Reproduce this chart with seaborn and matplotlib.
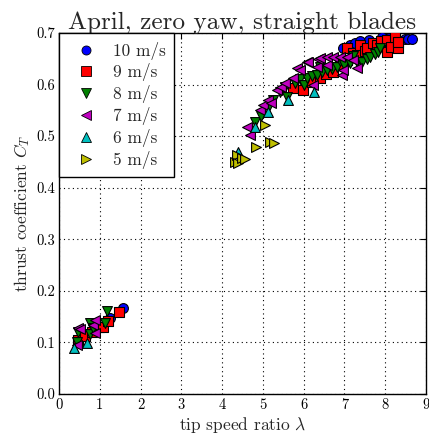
import matplotlib
matplotlib.use("Agg")
import matplotlib.pyplot as plt
import seaborn as sns
import pandas as pd
from matplotlib.lines import Line2D

# ---- data ----
speeds = ["10 m/s", "9 m/s", "8 m/s", "7 m/s", "6 m/s", "5 m/s"]

tsr_10 = [1.25, 1.57, 6.97, 7.14, 7.25, 7.38, 7.6, 7.92, 8.1, 8.48, 8.56, 8.66]
ct_10 = [0.148, 0.167, 0.671, 0.677, 0.680, 0.684, 0.686, 0.692, 0.690, 0.688, 0.688, 0.688]

tsr_9 = [0.47, 0.64, 0.81, 0.98, 1.08, 1.2, 1.47,
         5.74, 5.98, 6.2, 6.4, 6.55, 6.72, 6.9, 7.06, 7.06, 7.21, 7.31, 7.38,
         7.5, 7.55, 7.7, 7.8, 7.9, 8.04, 8.04, 8.15, 8.24, 8.31, 8.31]
ct_9 = [0.105, 0.113, 0.12, 0.13, 0.13, 0.142, 0.159,
        0.593, 0.589, 0.605, 0.613, 0.62, 0.624, 0.64, 0.648, 0.671, 0.661, 0.657, 0.677,
        0.665, 0.671, 0.68, 0.677, 0.685, 0.663, 0.686, 0.672, 0.692, 0.671, 0.682]

tsr_8 = [0.44, 0.47, 0.76, 0.76, 0.83, 1.13, 1.18,
         4.81, 4.95, 5.12, 5.25, 5.42, 5.55, 5.6, 5.79, 5.9, 6.0, 6.08, 6.2, 6.33,
         6.4, 6.45, 6.57, 6.7, 6.82, 6.9, 7.0, 7.14, 7.2, 7.3, 7.43, 7.55, 7.63,
         7.75, 7.82, 7.87]
ct_8 = [0.1, 0.12, 0.138, 0.116, 0.128, 0.138, 0.16,
        0.527, 0.54, 0.554, 0.57, 0.586, 0.595, 0.575, 0.603, 0.61, 0.6, 0.613, 0.617, 0.619,
        0.634, 0.624, 0.628, 0.631, 0.634, 0.645, 0.638, 0.642, 0.655, 0.643, 0.644, 0.65, 0.654,
        0.66, 0.663, 0.671]

tsr_7 = [0.44, 0.47, 0.51, 0.83, 0.88, 0.88,
         4.61, 4.68, 4.93, 5.0, 5.12, 5.2, 5.34, 5.45, 5.54, 5.74, 5.83, 5.91, 6.08,
         6.11, 6.23, 6.33, 6.35, 6.4, 6.57, 6.57, 6.72, 6.89, 6.94, 6.96, 7.06, 7.21, 7.31]
ct_7 = [0.095, 0.128, 0.126, 0.134, 0.118, 0.143,
        0.518, 0.502, 0.551, 0.56, 0.57, 0.565, 0.589, 0.595, 0.603, 0.613, 0.632, 0.628, 0.644,
        0.644, 0.599, 0.634, 0.65, 0.652, 0.638, 0.654, 0.654, 0.654, 0.619, 0.628, 0.654, 0.648, 0.632]

tsr_6 = [0.37, 0.69, 4.39, 4.81, 5.12, 5.62, 6.25]
ct_6 = [0.089, 0.099, 0.469, 0.518, 0.547, 0.57, 0.586]

tsr_5 = [4.32, 4.36, 4.39, 4.49, 4.56, 4.83, 5.05, 5.17, 5.27]
ct_5 = [0.45, 0.463, 0.448, 0.457, 0.456, 0.479, 0.522, 0.489, 0.487]

x_ticks = [0, 1, 2, 3, 4, 5, 6, 7, 8, 9]
y_ticks = [0.0, 0.1, 0.2, 0.3, 0.4, 0.5, 0.6, 0.7]

series = {"10 m/s": (tsr_10, ct_10), "9 m/s": (tsr_9, ct_9), "8 m/s": (tsr_8, ct_8),
          "7 m/s": (tsr_7, ct_7), "6 m/s": (tsr_6, ct_6), "5 m/s": (tsr_5, ct_5)}
rows = []
for sp in speeds:
    for a, b in zip(*series[sp]):
        rows.append({"tsr": a, "ct": b, "speed": sp})
df = pd.DataFrame(rows)

palette = {"10 m/s": (0, 0, 1), "9 m/s": (1, 0, 0), "8 m/s": (0, 0.5, 0),
           "7 m/s": (0.75, 0, 0.75), "6 m/s": (0, 0.75, 0.75), "5 m/s": (0.75, 0.75, 0)}
markers = {"10 m/s": "o", "9 m/s": "s", "8 m/s": "v", "7 m/s": "<", "6 m/s": "^", "5 m/s": ">"}

sns.set_style("white")
plt.rcParams["font.family"] = ["cmr10", "DejaVu Serif"]
plt.rcParams["mathtext.fontset"] = "cm"
plt.rcParams["axes.formatter.use_mathtext"] = True

fig = plt.figure(figsize=(4.29, 4.37), dpi=100)
ax = fig.add_axes([0.1375, 0.0984, 0.8555, 0.8261])

for sp in speeds:
    sns.scatterplot(data=df[df.speed == sp], x="tsr", y="ct", color=palette[sp],
                    marker=markers[sp], s=50, edgecolor="black", linewidth=0.8,
                    ax=ax, legend=False, zorder=3)

ax.set_xlim(0, 9)
ax.set_ylim(0, 0.7)
ax.set_xticks(x_ticks)
ax.set_yticks(y_ticks)
ax.set_xticklabels([str(t) for t in x_ticks])
ax.set_yticklabels([f"{t:.1f}" for t in y_ticks])
ax.grid(True, color="black", linestyle=(0, (1, 3)), linewidth=0.8)
ax.tick_params(direction="in", top=True, right=True, length=4, width=0.8,
               labelsize=10.5, pad=3, colors="black")
for s in ax.spines.values():
    s.set_color("black")
    s.set_linewidth(1.0)

ax.set_xlabel(r"tip speed ratio $\lambda$", fontsize=12.5, labelpad=2)
ax.set_ylabel(r"thrust coefficient $C_T$", fontsize=12.5, labelpad=3)
ax.set_title("April, zero yaw, straight blades", fontsize=18.2, pad=3)

handles = [Line2D([], [], linestyle="none", marker=markers[sp], color=palette[sp],
                  markeredgecolor="black", markeredgewidth=0.6, markersize=6.5)
           for sp in speeds]
leg = ax.legend(handles, speeds, loc="upper left", fontsize=12.5, frameon=True,
                fancybox=False, framealpha=1, edgecolor="black", borderaxespad=0,
                labelspacing=0.22, handletextpad=0.5, borderpad=0.5, handlelength=2.1)
leg.get_frame().set_linewidth(1.0)
leg.set_zorder(5)

fig.savefig("out.png", dpi=100)
